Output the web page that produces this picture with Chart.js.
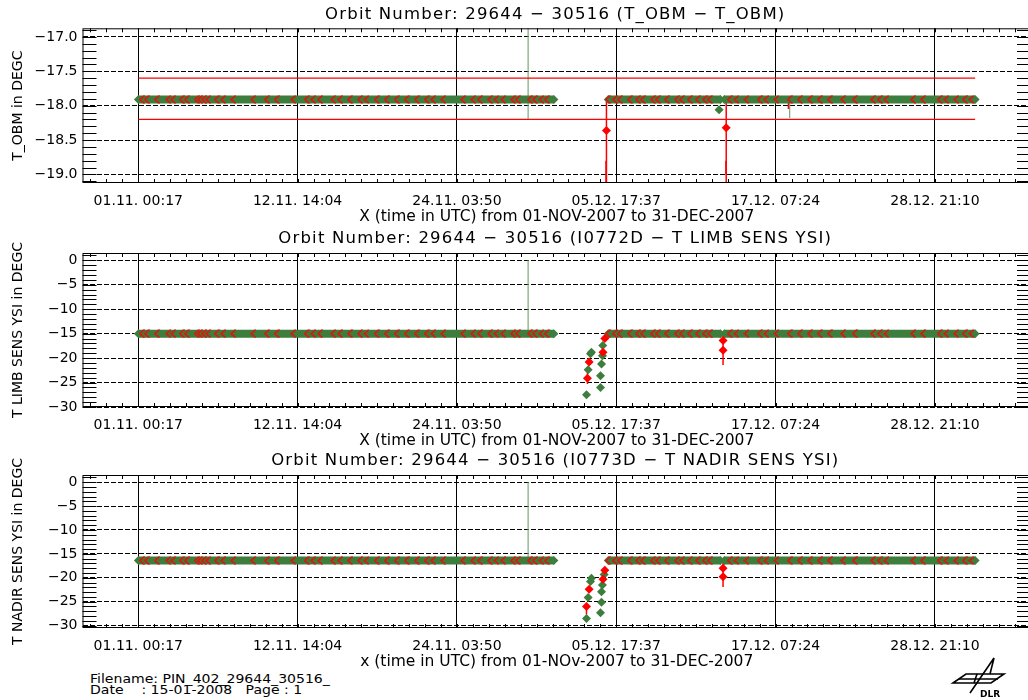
<!DOCTYPE html>
<html lang="en">
<head>
<meta charset="UTF-8">
<title>Orbit Number: 29644 - 30516</title>
<script src="https://cdn.jsdelivr.net/npm/chart.js@4"></script>
<style>
  body { margin: 0; width: 1028px; height: 700px; overflow: hidden; background: #fff; position: relative; font-family: 'DejaVu Sans', sans-serif; }
  .panel { position: absolute; left: 0; width: 1036px; }
  #p1 { top: 0; height: 225px; }
  #p2 { top: 225px; height: 224px; }
  #p3 { top: 449px; height: 221px; }
  .footer { position: absolute; left: 90px; top: 674px; font-size: 12px; line-height: 11px; white-space: pre; color: #000; transform-origin: 0 0; transform: scaleX(1.17); }
  #logo { position: absolute; left: 950px; top: 655px; }
</style>
</head>
<body>
<div class="panel" id="p1"><canvas id="c1"></canvas></div>
<div class="panel" id="p2"><canvas id="c2"></canvas></div>
<div class="panel" id="p3"><canvas id="c3"></canvas></div>
<div class="footer">Filename: PIN_402_29644_30516_
Date    : 15-01-2008   Page : 1</div>
<svg id="logo" width="58" height="44" viewBox="0 0 58 44">
  <g fill="none" stroke="#000" stroke-width="1.6">
    <polygon points="3,28 16,19 54,19 41,28"/>
    <line x1="9" y1="24" x2="48" y2="24"/>
    <polyline points="20,38 44,3 40,19"/>
    <line x1="27" y1="19" x2="24" y2="28"/>
  </g>
  <text x="30" y="42" font-family="DejaVu Sans" font-weight="bold" font-size="9">DLR</text>
</svg>

<script>
// x axis in days since 01-NOV-2007 00:00 UTC
const xTickDays = [0.0118, 11.586, 23.160, 34.734, 46.308, 57.882];
const xTickLabels = ['01.11. 00:17', '12.11. 14:04', '24.11. 03:50', '05.12. 17:37', '17.12. 07:24', '28.12. 21:10'];
const xRange = [-4.04, 64.86];

// continuous runs of orbit data (green band), same orbits in every plot
const bandStart = [0.02, 34.15, 42.58];
const bandEnd = [30.20, 42.30, 60.80];
const obmBand = [-17.91, -17.91, -17.91];
const limbBand = [-15.0, -15.0, -15.0];
const nadirBand = [-16.4, -16.4, -16.4];

// red marks sitting on the band
const redMarkDays = [0.26, 0.62, 1.35, 2.19, 2.55, 3.16, 3.53, 4.25, 4.49, 4.78, 5.09, 5.70, 6.18, 6.91,
  8.36, 9.34, 10.06, 11.27, 12.24, 12.72, 13.21, 14.17, 14.66, 15.38, 16.11, 16.59, 17.32, 18.05,
  18.77, 19.50, 20.23, 20.95, 21.43, 22.16, 23.61, 24.34, 24.82, 25.55, 26.03, 26.52, 27.24, 27.58,
  28.45, 28.81, 29.30, 29.67, 34.12, 34.62, 34.98, 35.71, 36.30, 36.66, 37.39, 37.75, 38.40, 39.13,
  39.50, 40.07, 40.65, 41.16, 41.52, 42.97, 43.46, 44.19, 45.15, 45.64, 46.37, 47.33, 48.06, 48.79,
  49.51, 50.24, 51.21, 52.05, 53.38, 53.87, 54.35, 56.29, 57.01, 58.22, 58.71, 59.43, 60.04, 60.53];

// T_OBM
const obmTicks = [-19.0, -18.5, -18.0, -17.5, -17.0];
const obmRange = [-19.125, -16.875];
const obmLimits = [-17.6, -18.2];
const limitSpan = [0.02, 60.80];
const obmGreenDays = [42.20];
const obmGreenVals = [-18.06];
const obmRedDays = [34.02, 42.72];
const obmRedVals = [-18.36, -18.32];
const obmGreenBarDays = [28.33, 47.33];
const obmGreenBarLo = [-18.20, -18.18];
const obmGreenBarHi = [-16.0, -17.91];
const obmRedBarDays = [33.99, 34.02, 42.70, 42.72, 47.24];
const obmRedBarLo = [-26.0, -19.4, -19.0, -20.0, -18.05];
const obmRedBarHi = [-18.8, -17.91, -18.8, -17.91, -17.91];

// T LIMB SENS YSI
const sensTicks = [-30, -25, -20, -15, -10, -5, 0];
const limbRange = [-30, 1.5];
const limbGreenDays = [32.57, 32.69, 32.86, 32.93, 33.59, 33.59, 33.66, 33.73, 33.75];
const limbGreenVals = [-27.5, -22.4, -19.1, -18.8, -26.0, -23.6, -21.2, -19.5, -17.4];
const limbRedDays = [32.64, 32.76, 33.77, 33.90, 42.49, 42.49];
const limbRedVals = [-24.1, -20.8, -18.8, -16.0, -18.4, -16.4];
const limbGreenBarDays = [28.33];
const limbGreenBarLo = [-15.0];
const limbGreenBarHi = [0.0];
const limbRedBarDays = [32.64, 42.49];
const limbRedBarLo = [-25.3, -21.4];
const limbRedBarHi = [-23.0, -15.0];

// T NADIR SENS YSI
const nadirRange = [-30.5, 1.5];
const nadirGreenDays = [32.57, 32.69, 32.86, 32.93, 33.59, 33.66, 33.66, 33.73, 33.85];
const nadirGreenVals = [-28.5, -24.1, -20.8, -20.1, -27.3, -25.1, -22.9, -21.5, -19.3];
const nadirRedDays = [32.57, 32.76, 33.77, 33.90, 42.49, 42.49];
const nadirRedVals = [-26.0, -22.4, -20.3, -18.4, -19.8, -18.0];
const nadirGreenBarDays = [28.33];
const nadirGreenBarLo = [-16.4];
const nadirGreenBarHi = [0.0];
const nadirRedBarDays = [32.57, 42.49];
const nadirRedBarLo = [-27.7, -21.9];
const nadirRedBarHi = [-25.2, -16.4];

const GREEN = '#3d7d3d';
const LIGHTGREEN = '#7aa87a';
const RED = '#ff0000';
const FONT = 'DejaVu Sans';

// red "<" mark used on the band
const chevron = document.createElement('canvas');
chevron.width = 6; chevron.height = 9;
(function () {
    const c = chevron.getContext('2d');
    c.strokeStyle = RED; c.lineWidth = 1.4;
    c.beginPath(); c.moveTo(5.5, 0.5); c.lineTo(1, 4.5); c.lineTo(5.5, 8.5); c.stroke();
})();

function pts(days, vals) {
    return days.map((d, i) => ({x: d, y: vals[i]}));
}
function bandPts(level) {
    const out = [];
    bandStart.forEach((s, i) => {
        out.push({x: s, y: level[i]}, {x: bandEnd[i], y: level[i]}, {x: bandEnd[i], y: null});
    });
    return out;
}
function levelAt(day, level) {
    for (let i = 0; i < bandStart.length; i++) {
        if (day >= bandStart[i] - 0.3 && day <= bandEnd[i] + 0.3) return level[i];
    }
    return level[0];
}
function fmt(v, dec) {
    if (v === 0) return '0';
    return (v < 0 ? '\u2212' : '') + Math.abs(v).toFixed(dec);
}

function makePanel(id, p) {
    const idl = {
        id: 'idl' + id,
        beforeDatasetsDraw(chart) {
            const {ctx, chartArea: a, scales: {x, y}} = chart;
            ctx.save();
            ctx.setLineDash([]);
            ctx.beginPath(); ctx.rect(a.left, a.top, a.width, a.height); ctx.clip();
            p.bars.forEach(b => {
                ctx.strokeStyle = b.color; ctx.lineWidth = b.width;
                b.days.forEach((d, i) => {
                    const px = x.getPixelForValue(d);
                    ctx.beginPath();
                    ctx.moveTo(px, y.getPixelForValue(b.lo[i]));
                    ctx.lineTo(px, y.getPixelForValue(b.hi[i]));
                    ctx.stroke();
                });
            });
            ctx.restore();
        },
        afterDraw(chart) {
            const {ctx, chartArea: a, scales: {x, y}} = chart;
            ctx.save();
            ctx.setLineDash([]);
            ctx.strokeStyle = '#000'; ctx.lineWidth = 1;
            ctx.strokeRect(a.left + 0.5, a.top + 0.5, a.width - 1, a.height - 1);
            // minor ticks along x (top and bottom)
            const xs = (xTickDays[1] - xTickDays[0]) / 10;
            let d = xTickDays[0];
            while (d - xs > x.min) d -= xs;
            ctx.beginPath();
            for (; d <= x.max; d += xs) {
                const px = Math.round(x.getPixelForValue(d)) + 0.5;
                ctx.moveTo(px, a.top); ctx.lineTo(px, a.top + 4);
                ctx.moveTo(px, a.bottom); ctx.lineTo(px, a.bottom - 4);
            }
            ctx.stroke();
            // minor ticks along y (left and right)
            let v = p.yTicks[0];
            while (v - p.yMinor > y.min) v -= p.yMinor;
            ctx.beginPath();
            for (; v <= y.max + 1e-9; v += p.yMinor) {
                const py = Math.round(y.getPixelForValue(v)) + 0.5;
                ctx.moveTo(a.left, py); ctx.lineTo(a.left + 14, py);
                ctx.moveTo(a.right, py); ctx.lineTo(a.right - 14, py);
            }
            ctx.stroke();
            // plot title
            ctx.fillStyle = '#000';
            ctx.font = '16.5px "' + FONT + '"';
            ctx.letterSpacing = '1.2px';
            ctx.textAlign = 'center';
            ctx.textBaseline = 'middle';
            ctx.fillText(p.title, (a.left + 1028) / 2, a.top - 14);
            ctx.restore();
        }
    };

    new Chart(document.getElementById(id), {
        type: 'scatter',
        data: {
            datasets: [
                {
                    data: pts(p.redDays, p.redVals),
                    pointStyle: 'rectRot', pointRadius: 4.5,
                    backgroundColor: RED, borderColor: RED, borderWidth: 0, order: 0
                },
                {
                    data: redMarkDays.map(dd => ({x: dd, y: levelAt(dd, p.band)})),
                    pointStyle: chevron, pointRadius: 4, order: 1
                },
                {
                    data: pts(p.greenDays, p.greenVals),
                    pointStyle: 'rectRot', pointRadius: 4.5,
                    backgroundColor: GREEN, borderColor: GREEN, borderWidth: 0, order: 2
                },
                {
                    data: bandPts(p.band), showLine: true, spanGaps: false,
                    borderColor: GREEN, borderWidth: 8, borderCapStyle: 'butt',
                    pointStyle: 'rectRot', pointRadius: 4.5,
                    backgroundColor: GREEN, pointBorderWidth: 0, order: 3
                },
                ...p.limits.map(l => ({
                    data: [{x: limitSpan[0], y: l}, {x: limitSpan[1], y: l}], showLine: true,
                    borderColor: RED, borderWidth: 1.2, pointRadius: 0, order: 4
                }))
            ]
        },
        options: {
            responsive: true,
            maintainAspectRatio: false,
            animation: false,
            events: [],
            layout: { padding: { top: p.padTop, left: 0, right: 1, bottom: 0 } },
            plugins: { legend: { display: false }, tooltip: { enabled: false } },
            scales: {
                x: {
                    type: 'linear', min: xRange[0], max: xRange[1],
                    afterBuildTicks: s => { s.ticks = xTickDays.map(t => ({value: t})); },
                    afterFit: s => { s.height = 42; },
                    grid: { color: '#000', lineWidth: 1, drawTicks: false },
                    border: { display: false },
                    ticks: {
                        autoSkip: false, maxRotation: 0, padding: 10, color: '#000',
                        font: { family: FONT, size: 14 },
                        callback: (val, i) => xTickLabels[i]
                    },
                    title: {
                        display: true, text: p.xTitle, color: '#000',
                        font: { family: FONT, size: 15.5, lineHeight: 1.0 }, padding: { top: 0, bottom: 0 }
                    }
                },
                y: {
                    type: 'linear', min: p.yRange[0], max: p.yRange[1],
                    afterBuildTicks: s => { s.ticks = p.yTicks.map(t => ({value: t})); },
                    afterFit: s => { s.width = 82.5; },
                    grid: { color: '#000', lineWidth: 1, drawTicks: false },
                    border: { display: false, dash: [5, 2] },
                    ticks: {
                        padding: 5, color: '#000',
                        font: { family: FONT, size: 14 },
                        callback: val => fmt(val, p.yDec)
                    },
                    title: {
                        display: true, text: p.yTitle, color: '#000',
                        font: { family: FONT, size: 14 }, padding: { top: 10, bottom: 0 }
                    }
                }
            }
        },
        plugins: [idl]
    });
}

makePanel('c1', {
    title: 'Orbit Number: 29644 \u2212 30516 (T_OBM \u2212 T_OBM)',
    xTitle: 'X (time in UTC) from 01-NOV-2007 to 31-DEC-2007',
    yTitle: 'T_OBM in DEGC',
    padTop: 28.3,
    yRange: obmRange, yTicks: obmTicks, yMinor: 0.1, yDec: 1,
    band: obmBand, limits: obmLimits,
    greenDays: obmGreenDays, greenVals: obmGreenVals,
    redDays: obmRedDays, redVals: obmRedVals,
    bars: [
        { days: obmGreenBarDays, lo: obmGreenBarLo, hi: obmGreenBarHi, color: LIGHTGREEN, width: 1.2 },
        { days: obmRedBarDays, lo: obmRedBarLo, hi: obmRedBarHi, color: RED, width: 1.5 }
    ]
});

makePanel('c2', {
    title: 'Orbit Number: 29644 \u2212 30516 (I0772D \u2212 T LIMB SENS YSI)',
    xTitle: 'X (time in UTC) from 01-NOV-2007 to 31-DEC-2007',
    yTitle: 'T LIMB SENS YSI in DEGC',
    padTop: 28,
    yRange: limbRange, yTicks: sensTicks, yMinor: 1, yDec: 0,
    band: limbBand, limits: [],
    greenDays: limbGreenDays, greenVals: limbGreenVals,
    redDays: limbRedDays, redVals: limbRedVals,
    bars: [
        { days: limbGreenBarDays, lo: limbGreenBarLo, hi: limbGreenBarHi, color: LIGHTGREEN, width: 1.2 },
        { days: limbRedBarDays, lo: limbRedBarLo, hi: limbRedBarHi, color: RED, width: 1.5 }
    ]
});

makePanel('c3', {
    title: 'Orbit Number: 29644 \u2212 30516 (I0773D \u2212 T NADIR SENS YSI)',
    xTitle: 'x (time in UTC) from 01-NOv-2007 to 31-DEC-2007',
    yTitle: 'T NADIR SENS YSI in DEGC',
    padTop: 26,
    yRange: nadirRange, yTicks: sensTicks, yMinor: 1, yDec: 0,
    band: nadirBand, limits: [],
    greenDays: nadirGreenDays, greenVals: nadirGreenVals,
    redDays: nadirRedDays, redVals: nadirRedVals,
    bars: [
        { days: nadirGreenBarDays, lo: nadirGreenBarLo, hi: nadirGreenBarHi, color: LIGHTGREEN, width: 1.2 },
        { days: nadirRedBarDays, lo: nadirRedBarLo, hi: nadirRedBarHi, color: RED, width: 1.5 }
    ]
});
</script>
</body>
</html>
